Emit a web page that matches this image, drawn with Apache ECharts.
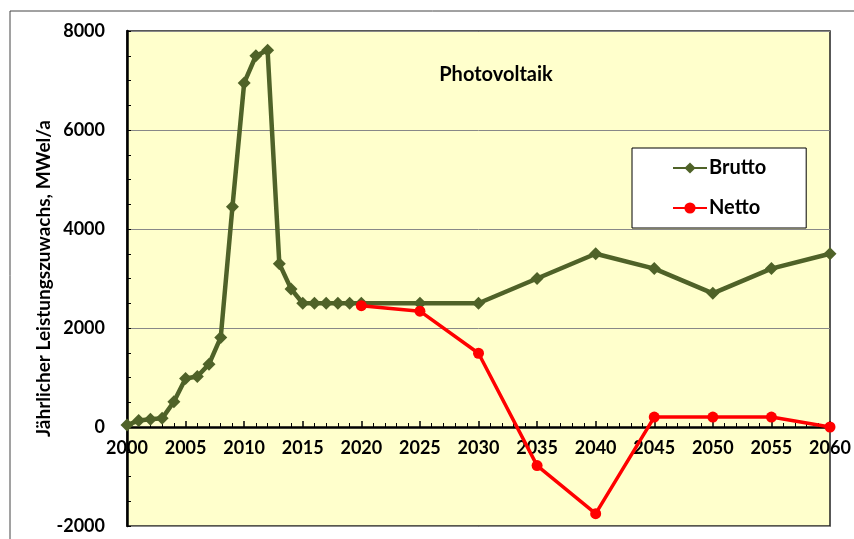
<!DOCTYPE html>
<html>
<head>
<meta charset="utf-8">
<script src="https://cdn.jsdelivr.net/npm/echarts@6/dist/echarts.min.js"></script>
<style>
  html, body { margin: 0; padding: 0; background: #fff; }
  #chart { width: 854px; height: 539px; }
</style>
</head>
<body>
<div id="chart"></div>
<script>
// years and values
const bruttoYears = [2000, 2001, 2002, 2003, 2004, 2005, 2006, 2007, 2008, 2009, 2010, 2011, 2012, 2013, 2014, 2015, 2016, 2017, 2018, 2019, 2020, 2025, 2030, 2035, 2040, 2045, 2050, 2055, 2060]
const bruttoValues = [40, 130, 155, 175, 510, 980, 1020, 1270, 1810, 4450, 6950, 7500, 7610, 3300, 2790, 2500, 2500, 2500, 2500, 2500, 2500, 2500, 2500, 3000, 3500, 3200, 2700, 3200, 3500]
const nettoYears = [2020, 2025, 2030, 2035, 2040, 2045, 2050, 2055, 2060]
const nettoValues = [2450, 2340, 1490, -780, -1750, 200, 200, 200, 0]

const font = 'Lato'

const chart = echarts.init(document.getElementById('chart'))

chart.setOption({
  animation: false,
  textStyle: { fontFamily: font },
  title: {
    text: 'Photovoltaik',
    left: 491,
    top: 60,
    textAlign: 'center',
    textStyle: { fontSize: 20, fontWeight: 'bold', color: '#000', fontFamily: font },
  },
  graphic: [{
    type: 'rect',
    shape: { x: 10, y: 11, width: 900, height: 600 },
    style: { fill: 'none', stroke: '#444', lineWidth: 1 },
    z: -1,
  }],
  legend: {
    left: 632,
    top: 148,
    orient: 'vertical',
    backgroundColor: '#fff',
    borderColor: '#000',
    borderWidth: 1,
    padding: [10, 40, 10, 40],
    itemGap: 20,
    itemWidth: 34,
    itemHeight: 14,
    textStyle: { fontSize: 20, fontWeight: 'bold', color: '#000', fontFamily: font, padding: [0, 0, 0, -3] },
    data: ['Brutto', 'Netto'],
  },
  grid: {
    show: true,
    left: 127,
    right: 24,
    top: 31,
    bottom: 13,
    outerBoundsMode: 'none',
    containLabel: false,
    backgroundColor: '#FFFFCC',
    borderColor: '#222',
    borderWidth: 1.5,
  },
  xAxis: {
    type: 'value',
    min: 2000,
    max: 2060,
    interval: 5,
    position: 'bottom',
    // the category line sits on the zero value, 99 px above the grid bottom
    offset: -99,
    axisLine: { onZero: false, lineStyle: { color: '#000', width: 2.5 } },
    axisTick: { inside: true, length: 6, lineStyle: { color: '#000', width: 1.5 } },
    minorTick: { show: true, splitNumber: 5, length: 4, lineStyle: { color: '#000', width: 1 } },
    splitLine: { show: false },
    axisLabel: {
      margin: 12,
      fontSize: 18,
      fontWeight: 'bold',
      color: '#000',
      fontFamily: font,
      formatter: (v) => String(v),
    },
  },
  yAxis: {
    type: 'value',
    min: -2000,
    max: 8000,
    interval: 2000,
    name: 'Jährlicher Leistungszuwachs, MWel/a',
    nameLocation: 'middle',
    nameGap: 74,
    nameMoveOverlap: false,
    nameTextStyle: { fontSize: 19, fontWeight: 'bold', color: '#000', fontFamily: font },
    axisLine: { show: true, onZero: false, lineStyle: { color: '#000', width: 2.5 } },
    axisTick: { show: true, inside: true, length: 4, lineStyle: { color: '#000', width: 1 } },
    minorTick: { show: true, splitNumber: 4, length: 4, lineStyle: { color: '#000', width: 1 } },
    splitLine: { show: true, lineStyle: { color: '#888', width: 1 } },
    axisLabel: {
      margin: 22,
      fontSize: 18,
      fontWeight: 'bold',
      color: '#000',
      fontFamily: font,
      formatter: (v) => String(v),
    },
  },
  series: [
    {
      name: 'Brutto',
      type: 'line',
      data: bruttoYears.map((y, i) => [y, bruttoValues[i]]),
      symbol: 'diamond',
      symbolSize: 13,
      showAllSymbol: true,
      color: '#4F6228',
      lineStyle: { color: '#4F6228', width: 4.5 },
      itemStyle: { color: '#4F6228' },
      z: 3,
    },
    {
      name: 'Netto',
      type: 'line',
      data: nettoYears.map((y, i) => [y, nettoValues[i]]),
      symbol: 'circle',
      symbolSize: 11,
      showAllSymbol: true,
      color: '#FF0000',
      lineStyle: { color: '#FF0000', width: 3.5 },
      itemStyle: { color: '#FF0000' },
      z: 4,
    },
  ],
})
</script>
</body>
</html>
